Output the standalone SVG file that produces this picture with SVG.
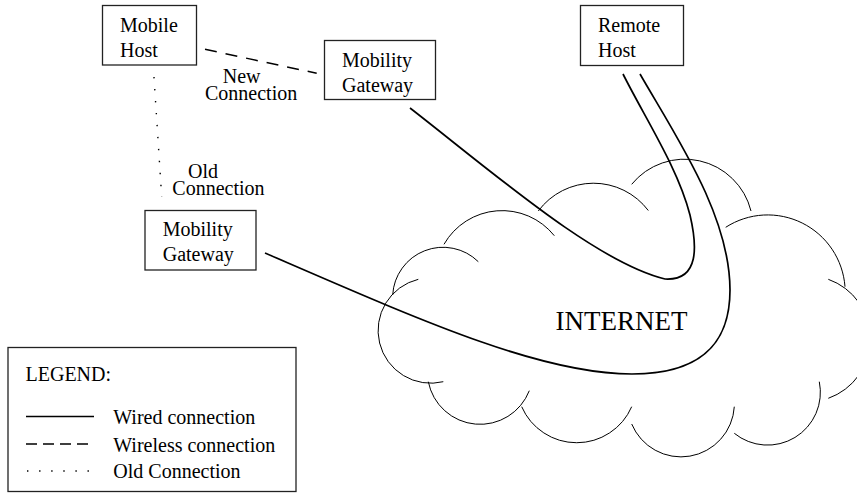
<svg xmlns="http://www.w3.org/2000/svg" width="857" height="494" viewBox="0 0 857 494">
<style>
.box{fill:#fff;stroke:#222;stroke-width:1.3}
.t{font-family:"Liberation Serif","Times New Roman",serif;font-size:20px;fill:#000}
.big{font-size:27px}
.wired{fill:none;stroke:#000;stroke-width:1.7}
.wireless{fill:none;stroke:#000;stroke-width:1.5;stroke-dasharray:12 9}
.old{fill:none;stroke:#000;stroke-width:1.4;stroke-dasharray:1.4 10.6}
.cloud{fill:none;stroke:#000;stroke-width:1}
</style>
<rect width="857" height="494" fill="#fff"/>
<g id="internet-cloud">
<path class="cloud" d="M631.7,184.3 A68.4,68.4 0 0 1 751,211"/>
<path class="cloud" d="M538.3,211 A68.7,68.7 0 0 1 648.3,210.5"/>
<path class="cloud" d="M444,244.3 A66.9,66.9 0 0 1 554.3,235.7"/>
<path class="cloud" d="M392.7,295 A50.4,50.4 0 0 1 478.3,261.7"/>
<path class="cloud" d="M418.3,279.3 A52,52 0 0 0 443.3,381.7"/>
<path class="cloud" d="M428.3,381.7 A52.8,52.8 0 0 0 529.3,390.7"/>
<path class="cloud" d="M521.7,406.7 A60,60 0 0 0 631.7,406.7"/>
<path class="cloud" d="M631.7,424 A53.4,53.4 0 0 0 734.3,406.7"/>
<path class="cloud" d="M734.3,433.3 A52.8,52.8 0 0 0 819.3,381.7"/>
<path class="cloud" d="M828.3,279.3 A63.1,63.1 0 0 1 828.3,398.3"/>
<path class="cloud" d="M725.7,227.3 A77.5,77.5 0 0 1 845,286.7"/>
<text class="t big" x="555.5" y="330">INTERNET</text>
</g>
<g id="connectors">
<path class="wired" d="M410,108 C490,170 595,262 665,279 C700,281 697,245 690,215 C678,168 645,118 623,74"/>
<path class="wired" d="M265,253 C420,320 540,374 632,374 C710,374 730,335 730,290 C730,215 675,135 640,74"/>
<path class="wireless" d="M205,49.3 L316.7,73.3"/>
<path class="old" d="M154,77 L161.7,197"/>
<text class="t" x="222.7" y="83.3">New</text>
<text class="t" x="205" y="99.6">Connection</text>
<text class="t" x="188" y="177.5">Old</text>
<text class="t" x="172.3" y="194.5">Connection</text>
</g>
<g id="mobile-host">
<rect class="box" x="102.5" y="5.5" width="94" height="59.5"/>
<text class="t" x="120" y="31.7">Mobile</text>
<text class="t" x="120" y="56.7">Host</text>
</g>
<g id="mobility-gateway-new">
<rect class="box" x="324.5" y="40.5" width="111" height="59"/>
<text class="t" x="342" y="66.7">Mobility</text>
<text class="t" x="342" y="91.5">Gateway</text>
</g>
<g id="mobility-gateway-old">
<rect class="box" x="145" y="210.5" width="111" height="59.5"/>
<text class="t" x="162.7" y="235.5">Mobility</text>
<text class="t" x="162.7" y="261">Gateway</text>
</g>
<g id="remote-host">
<rect class="box" x="580.5" y="5.5" width="103" height="60"/>
<text class="t" x="598" y="32.3">Remote</text>
<text class="t" x="598" y="57.3">Host</text>
</g>
<g id="legend">
<rect class="box" x="8" y="347.5" width="288" height="144"/>
<text class="t" x="25.5" y="381">LEGEND:</text>
<path class="wired" d="M26,416.5 H94"/>
<text class="t" x="113.3" y="424">Wired connection</text>
<path class="wired" d="M26,444 H90" style="stroke-dasharray:11 6;stroke-width:1.5"/>
<text class="t" x="113.3" y="451.5">Wireless connection</text>
<path class="old" d="M27,471 H90" style="stroke-dasharray:1.4 10.7"/>
<text class="t" x="113.3" y="478">Old Connection</text>
</g>
</svg>
